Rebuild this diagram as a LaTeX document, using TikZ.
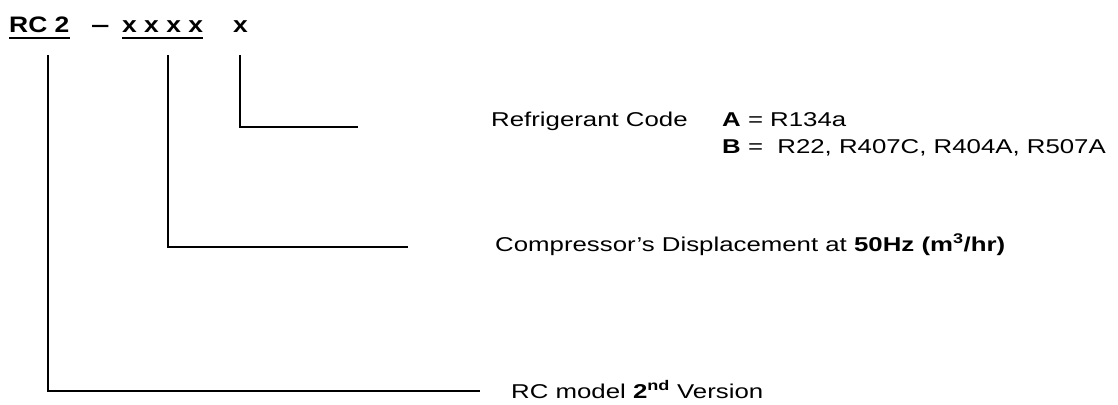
\documentclass[tikz,border=0pt]{standalone}
\usepackage{fontspec}
\setmainfont[FakeStretch=1.29]{Liberation Sans}
\newfontfamily\topfont[FakeStretch=1.18]{Liberation Sans}
\begin{document}
\begin{tikzpicture}[x=1pt,y=-1pt,
  conn/.style={line width=2pt, line join=miter},
  uline/.style={line width=2.5pt},
  lab/.style={inner sep=0pt, anchor=base west, font=\fontsize{20}{24}\selectfont},
  code/.style={inner sep=0pt, anchor=base west, font=\topfont\bfseries\fontsize{22.4}{26}\selectfont}]
\useasboundingbox (0,0) rectangle (1118,404);
% code labels
\node[code] (rc) at (9,33) {RC 2};
\node[code] (dash) at (91,33) {\scalebox{1.25}[1]{–}};
\node[code] (disp) at (122,33) {x x x x};
\node[code] (ref) at (233,33) {x};
\draw[uline] ([yshift=-5pt]rc.base west) -- ([yshift=-5pt]rc.base east);
\draw[uline] ([yshift=-5pt]disp.base west) -- ([yshift=-5pt]disp.base east);
% descriptions
\node[lab] (refT) at (491,126) {Refrigerant Code};
\node[lab] (refA) at (722,126) {\textbf{A} = R134a};
\node[lab] (refB) at (722,153) {\textbf{B} =~~R22, R407C, R404A, R507A};
\node[lab] (dispT) at (495,251) {Compressor’s Displacement at \textbf{50Hz (m\textsuperscript{3}/hr)}};
\node[lab] (rcT) at (511,398) {RC model \textbf{2\textsuperscript{nd}} Version};
% connector ends
\coordinate (s1) at (48,55);
\coordinate (e1) at (480,391);
\coordinate (s2) at (168,55);
\coordinate (e2) at (408,247);
\coordinate (s3) at (240,55);
\coordinate (e3) at (358,127);
\draw[conn] (s1) |- (e1);
\draw[conn] (s2) |- (e2);
\draw[conn] (s3) |- (e3);
\end{tikzpicture}
\end{document}
